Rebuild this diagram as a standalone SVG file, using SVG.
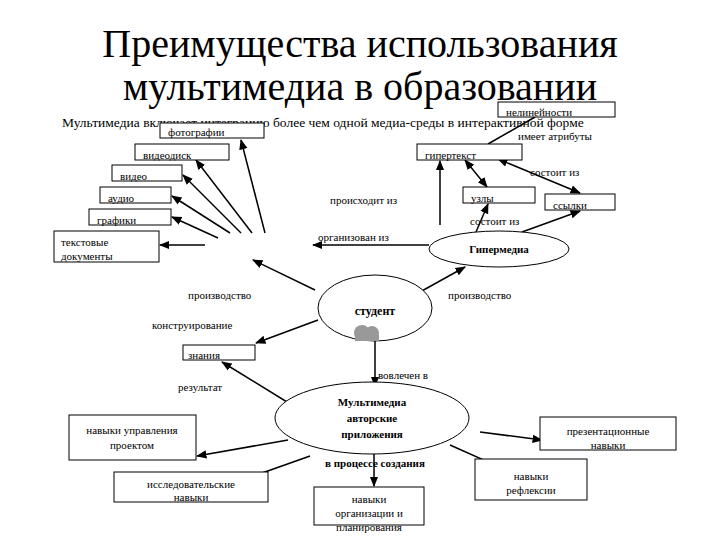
<svg xmlns="http://www.w3.org/2000/svg" width="720" height="540" viewBox="0 0 720 540">
<style>
text{font-family:'Liberation Serif','DejaVu Serif',serif;font-size:11px;fill:#000}
.t{font-size:40px;text-anchor:middle}
.c{text-anchor:middle}
.b{font-weight:bold}
rect,ellipse{fill:#fff;stroke:#000;stroke-width:1}
#conn line{stroke:#000;stroke-width:1.5}
</style>
<defs><marker id="a" viewBox="0 0 10 10" refX="9" refY="5" markerWidth="7" markerHeight="7" orient="auto-start-reverse"><path d="M0,1L10,5L0,9z"/></marker></defs>
<rect x="0" y="0" width="720" height="540" style="stroke:none"/>
<text class="t" x="360" y="57">Преимущества использования</text>
<text class="t" x="360" y="100">мультимедиа в образовании</text>
<text x="62" y="127" style="font-size:13.5px">Мультимедиа включает интеграцию более чем одной медиа-среды в интерактивной форме</text>
<g id="conn">
<line x1="265" y1="233" x2="241" y2="140" marker-end="url(#a)"/>
<line x1="252" y1="233" x2="196" y2="160" marker-end="url(#a)"/>
<line x1="241" y1="233" x2="183" y2="175" marker-end="url(#a)"/>
<line x1="230" y1="233" x2="172" y2="196" marker-end="url(#a)"/>
<line x1="218" y1="238" x2="172" y2="217" marker-end="url(#a)"/>
<line x1="205" y1="245" x2="160" y2="245" marker-end="url(#a)"/>
<line x1="429" y1="245" x2="313" y2="245" marker-end="url(#a)"/>
<line x1="440" y1="225" x2="440" y2="161" marker-end="url(#a)"/>
<line x1="488" y1="144" x2="535" y2="117"/>
<line x1="465" y1="160" x2="487" y2="187" marker-start="url(#a)" marker-end="url(#a)"/>
<line x1="498" y1="159" x2="580" y2="193" marker-start="url(#a)" marker-end="url(#a)"/>
<line x1="476" y1="232" x2="488" y2="204" marker-end="url(#a)"/>
<line x1="522" y1="232" x2="580" y2="211" marker-end="url(#a)"/>
<line x1="315" y1="290" x2="253" y2="260" marker-end="url(#a)"/>
<line x1="420" y1="292" x2="465" y2="267" marker-end="url(#a)"/>
<line x1="318" y1="320" x2="256" y2="343" marker-end="url(#a)"/>
<line x1="375" y1="341" x2="375" y2="386" marker-end="url(#a)"/>
<line x1="300" y1="410" x2="222" y2="362" marker-end="url(#a)"/>
<line x1="288" y1="440" x2="197" y2="456" marker-end="url(#a)"/>
<line x1="310" y1="456" x2="220" y2="488" marker-end="url(#a)"/>
<line x1="374" y1="453" x2="374" y2="486" marker-end="url(#a)"/>
<line x1="450" y1="445" x2="515" y2="474" marker-end="url(#a)"/>
<line x1="480" y1="432" x2="542" y2="440" marker-end="url(#a)"/>
</g>
<g id="foto"><rect x="160" y="123" width="104" height="15"/><text x="168" y="136">фотографии</text></g>
<g id="videodisk"><rect x="135" y="144" width="94" height="16"/><text x="143" y="159">видеодиск</text></g>
<g id="video"><rect x="112" y="165" width="70" height="16"/><text x="120" y="180">видео</text></g>
<g id="audio"><rect x="100" y="187" width="71" height="16"/><text x="108" y="202">аудио</text></g>
<g id="grafiki"><rect x="89" y="209" width="82" height="16"/><text x="97" y="224">графики</text></g>
<g id="tekst"><rect x="54" y="231" width="105" height="31"/><text x="61" y="246">текстовые</text><text x="61" y="260">документы</text></g>
<g id="nelin"><rect x="498" y="102" width="117" height="15"/><text x="506" y="116">нелинейности</text></g>
<g id="gipertekst"><rect x="417" y="144" width="105" height="16"/><text x="425" y="159">гипертекст</text></g>
<g id="uzly"><rect x="463" y="187" width="72" height="16"/><text x="471" y="202">узлы</text></g>
<g id="ssylki"><rect x="545" y="194" width="70" height="16"/><text x="553" y="209">ссылки</text></g>
<g id="gipermedia"><ellipse cx="499" cy="249" rx="70" ry="18"/><text class="c b" x="499" y="253">Гипермедиа</text></g>
<g id="student"><ellipse cx="375" cy="308" rx="57" ry="33"/><text class="c b" x="375" y="315" style="font-size:12px">студент</text>
<g fill="#999"><circle cx="362" cy="333" r="8"/><circle cx="372" cy="333" r="7"/><rect x="355" y="335" width="24" height="6" style="fill:#999;stroke:none"/></g></g>
<g id="znaniya"><rect x="183" y="345" width="72" height="15"/><text x="188" y="359">знания</text></g>
<g id="mm"><ellipse cx="372" cy="418" rx="97" ry="36"/><text class="c b" x="372" y="406">Мультимедиа</text><text class="c b" x="372" y="422">авторские</text><text class="c b" x="372" y="438">приложения</text></g>
<g id="upr"><rect x="69" y="415" width="127" height="45"/><text class="c" x="132" y="434">навыки управления</text><text class="c" x="132" y="449">проектом</text></g>
<g id="issl"><rect x="114" y="472" width="154" height="30"/><text class="c" x="191" y="488">исследовательские</text><text class="c" x="191" y="501">навыки</text></g>
<g id="org"><rect x="314" y="487" width="110" height="38"/><text class="c" x="369" y="503">навыки</text><text class="c" x="369" y="517">организации и</text><text class="c" x="369" y="531">планирования</text></g>
<g id="refl"><rect x="475" y="459" width="112" height="41"/><text class="c" x="531" y="480">навыки</text><text class="c" x="531" y="494">рефлексии</text></g>
<g id="prez"><rect x="540" y="417" width="136" height="33"/><text class="c" x="608" y="435">презентационные</text><text class="c" x="608" y="449">навыки</text></g>
<g id="labels">
<text x="518" y="140">имеет атрибуты</text>
<text x="530" y="176">состоит из</text>
<text x="330" y="204">происходит из</text>
<text x="470" y="225">состоит из</text>
<text x="318" y="241">организован из</text>
<text x="188" y="299">производство</text>
<text x="448" y="299">производство</text>
<text x="152" y="329">конструирование</text>
<text x="378" y="379">вовлечен в</text>
<text x="178" y="391">результат</text>
<text class="c b" x="375" y="467">в процессе создания</text>
</g>
</svg>
